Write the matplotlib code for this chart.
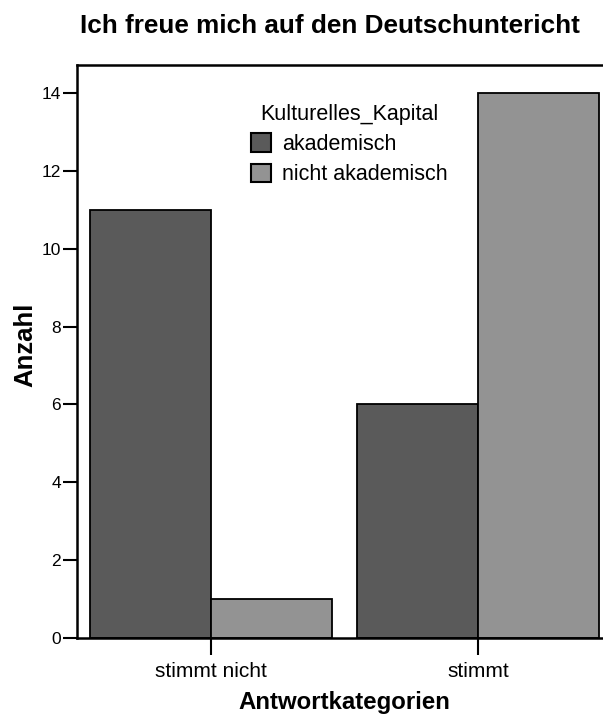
import matplotlib
matplotlib.use("Agg")
import matplotlib.pyplot as plt
import numpy as np

plt.rcParams['font.family'] = ['Liberation Sans', 'DejaVu Sans']

categories = ["stimmt nicht", "stimmt"]
series_names = ["akademisch", "nicht akademisch"]
akademisch = [11, 6]
nicht_akademisch = [1, 14]
y_ticks = [0, 2, 4, 6, 8, 10, 12, 14]
title = "Ich freue mich auf den Deutschunter" + "icht"

colors = ["#5a5a5a", "#939393"]

W, H = 603, 716
fig = plt.figure(figsize=(W / 100, H / 100), dpi=100)
left, right, top, bottom = 77, 602.5, 65, 638
ax = fig.add_axes([left / W, 1 - bottom / H, (right - left) / W, (bottom - top) / H])

x = np.arange(len(categories))
bw = 0.453
ax.bar(x - bw / 2, akademisch, bw, color=colors[0], edgecolor="black", linewidth=1.3, label=series_names[0])
ax.bar(x + bw / 2, nicht_akademisch, bw, color=colors[1], edgecolor="black", linewidth=1.3, label=series_names[1])

ax.set_xlim(-0.502, 1.466)
ax.set_ylim(0, 14.72)
ax.set_xticks(x)
ax.set_xticklabels(categories, fontsize=15)
ax.set_yticks(y_ticks)
ax.set_yticklabels([str(t) for t in y_ticks], fontsize=12.5)

for s in ["left", "top", "bottom"]:
    ax.spines[s].set_linewidth(1.8)
ax.spines["right"].set_visible(False)
ax.tick_params(axis="y", direction="out", length=10, width=1.5, pad=1.5)
ax.tick_params(axis="x", direction="out", length=12.5, width=1.5, pad=5)

ax.set_xlabel("Antwortkategorien", fontsize=17.3, fontweight="bold")
ax.set_ylabel("Anzahl", fontsize=18.5, fontweight="bold")
ax.xaxis.set_label_coords(344.5 / W, 1 - 702 / H, transform=fig.transFigure)
ax.yaxis.set_label_coords(25 / W, 1 - 345 / H, transform=fig.transFigure)
ax.xaxis.label.set_va("center")
ax.yaxis.label.set_va("center")

fig.text(330 / W, 1 - 33 / H, title,
         ha="center", va="baseline", fontsize=18.8, fontweight="bold")

leg = ax.legend(title="Kulturelles_Kapital", frameon=False, fontsize=15.5,
                title_fontsize=15.5, loc="upper left",
                bbox_to_anchor=(240 / W, 1 - 93 / H), bbox_transform=fig.transFigure,
                handlelength=0.95, handleheight=0.95, handletextpad=0.5,
                labelspacing=0.4, borderpad=0, alignment="center")
for h in leg.legend_handles:
    h.set_linewidth(1.5)

fig.savefig("out.png", dpi=100)
